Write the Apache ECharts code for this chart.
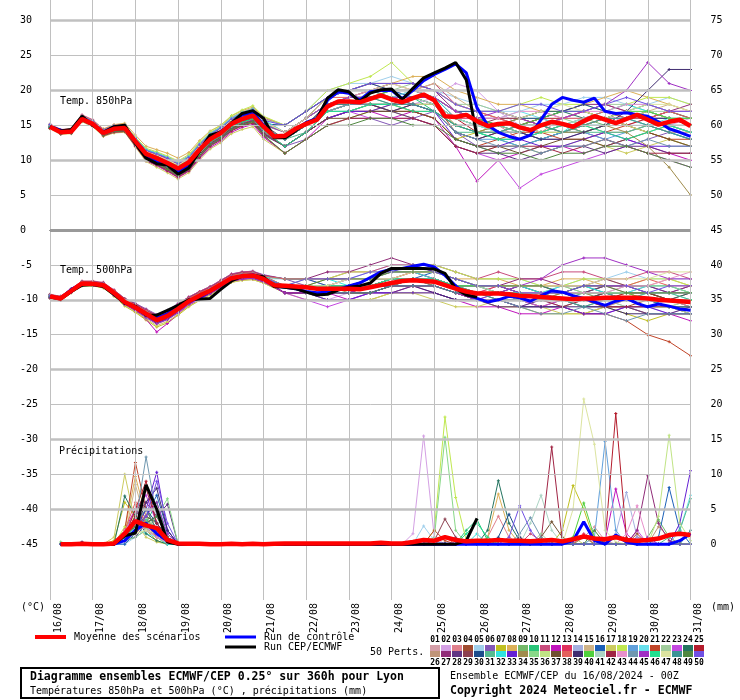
<!DOCTYPE html>
<html><head><meta charset="utf-8">
<script src="https://cdn.jsdelivr.net/npm/echarts@6.0.0/dist/echarts.min.js"></script>
<style>html,body{margin:0;padding:0;background:#fff}#c{width:740px;height:700px}</style>
</head><body><div id="c"></div>
<script>
// ---------- axes / labels ----------
const dateLabels = ['16/08','17/08','18/08','19/08','20/08','21/08','22/08','23/08','24/08','25/08','26/08','27/08','28/08','29/08','30/08','31/08'];
const dayHours = [0,24,48,72,96,120,144,168,192,216,240,264,288,312,336,360];
const leftTicks = [-45,-40,-35,-30,-25,-20,-15,-10,-5,0,5,10,15,20,25,30];
const rightTickLabels = ['0','5','10','15','20','25','30','35','40','45','50','55','60','65','70','75'];
const gridThick = [30,20,10,-10,-20,-30,-40];
const gridThin = [25,15,5,-5,-15,-25,-35];
const zeroLine = [0];

// ---------- time steps ----------
const hours6 = [0,6,12,18,24,30,36,42,48,54,60,66,72,78,84,90,96,102,108,114,120,126,132,138,144,150,156,162,168,174,180,186,192,198,204,210,216,222,228,234,240,246,252,258,264,270,276,282,288,294,300,306,312,318,324,330,336,342,348,354,360];
const memberHours = [0,6,12,18,24,30,36,42,48,54,60,66,72,78,84,90,96,102,108,114,120,132,144,156,168,180,192,204,216,228,240,252,264,276,288,300,312,324,336,348,360];
const precipHours = [6,12,18,24,30,36,42,48,54,60,66,72,78,84,90,96,102,108,114,120,126,132,138,144,150,156,162,168,174,180,186,192,198,204,210,216,222,228,234,240,246,252,258,264,270,276,282,288,294,300,306,312,318,324,330,336,342,348,354,360];

// ---------- main series ----------
const mean850 = [14.8,14.0,14.1,15.9,15.2,13.9,14.5,14.6,12.7,10.9,10.3,9.6,8.8,9.7,11.5,13.0,13.9,15.2,15.9,16.4,14.8,13.4,13.5,14.5,15.2,15.8,17.7,18.4,18.4,18.3,18.8,19.3,18.7,18.3,18.9,19.4,18.6,16.3,16.2,16.5,15.6,14.9,15.2,15.3,14.7,14.3,15.0,15.5,15.2,14.8,15.6,16.3,15.8,15.3,15.9,16.5,15.8,15.1,15.5,15.8,14.9];
const control850 = [14.8,14.3,14.2,16.0,15.2,13.9,14.8,14.9,12.6,10.6,9.8,9.4,8.3,9.2,11.4,13.4,14.1,15.3,16.5,16.9,15.0,13.4,13.3,14.4,15.4,16.0,18.6,19.8,19.6,18.6,19.8,20.0,20.0,18.8,20.0,21.4,22.3,23.0,23.8,22.5,17.5,15.0,14.0,13.4,13.0,13.6,15.8,18.0,19.0,18.6,18.3,18.9,17.0,16.7,16.8,16.5,16.3,15.5,14.5,14.0,13.4];
const oper850 = [14.8,14.2,14.4,16.3,15.0,14.0,14.8,15.0,12.4,10.3,9.5,9.3,8.0,8.9,11.3,13.6,14.0,15.3,16.7,17.1,16.0,13.2,13.2,14.2,15.3,15.9,18.9,20.1,19.8,18.4,19.6,20.1,20.2,18.7,20.3,21.8,22.5,23.2,24.0,21.5,13.4];
const mean500 = [-9.5,-9.8,-8.7,-7.65,-7.7,-7.9,-9.0,-10.3,-11.1,-12.0,-12.9,-12.3,-11.3,-10.2,-9.4,-8.7,-7.8,-6.9,-6.6,-6.5,-7.0,-7.9,-8.0,-8.1,-8.2,-8.4,-8.4,-8.4,-8.4,-8.5,-8.2,-7.9,-7.6,-7.3,-7.2,-7.3,-7.4,-7.9,-8.4,-8.8,-9.1,-9.1,-9.1,-9.2,-9.4,-9.5,-9.6,-9.7,-9.8,-9.9,-9.8,-9.8,-9.7,-9.7,-9.7,-9.7,-9.8,-10.0,-10.1,-10.2,-10.3];
const control500 = [-9.5,-9.8,-8.5,-7.7,-7.8,-8.0,-9.2,-10.4,-11.0,-12.0,-12.6,-12.0,-11.0,-10.3,-9.7,-8.8,-7.9,-7.0,-6.6,-6.4,-6.9,-7.9,-8.2,-8.4,-8.8,-9.0,-8.9,-8.5,-8.0,-7.6,-6.8,-6.0,-5.6,-5.5,-5.2,-4.9,-5.3,-6.5,-8.0,-9.2,-9.8,-10.3,-10.0,-9.5,-9.7,-10.2,-9.4,-8.7,-8.9,-9.4,-9.8,-10.3,-10.8,-10.2,-9.8,-10.5,-11.0,-10.6,-10.9,-11.3,-11.5];
const oper500 = [-9.6,-9.9,-8.8,-7.9,-7.8,-8.1,-9.2,-10.5,-10.9,-12.2,-12.2,-11.5,-10.8,-10.0,-9.9,-9.8,-8.5,-7.3,-6.6,-6.5,-6.7,-8.1,-8.2,-8.4,-8.9,-9.3,-9.2,-8.6,-8.2,-8.0,-7.6,-6.2,-5.5,-5.5,-5.5,-5.5,-5.6,-6.2,-8.4,-9.3,-9.6];
const meanPrecip = [0,0,0.05,0,0,0.1,1.5,3.3,2.7,2.3, 0.6,0.1,0.05,0.05,0,0,0.05,0,0.05,0, 0.05,0.1,0.1,0.1,0.1,0.1,0.1,0.1,0.1,0.1, 0.2,0.1,0.1,0.3,0.6,0.5,1.0,0.6,0.4,0.5, 0.5,0.6,0.5,0.5,0.4,0.5,0.6,0.4,0.7,1.1, 0.8,0.7,1.0,0.6,0.5,0.6,0.8,1.3,1.5,1.3];
const controlPrecip = [0,0,0,0,0,0,0.5,2.0,3.0,1.5, 0.5,0,0,0,0,0,0,0,0,0, 0,0,0,0,0,0,0,0,0,0, 0,0,0,0,0,0,0,0,0,0, 0,0,0,0,0,0,0,0,0.5,3.2, 0.5,0,1.3,0.3,0,0,0,0,0.5,1.5];
const operPrecip = [0,0,0,0,0,0,1.2,1.6,8.5,5.0, 0.3,0,0,0,0,0,0,0,0,0, 0,0,0,0,0,0,0,0,0,0, 0,0,0,0,0,0,0,0,0.5,3.7];

// ---------- 50 perturbed members ----------
const memberIds = ['01','02','03','04','05','06','07','08','09','10','11','12','13','14','15','16','17','18','19','20','21','22','23','24','25','26','27','28','29','30','31','32','33','34','35','36','37','38','39','40','41','42','43','44','45','46','47','48','49','50'];
const memberColors = ['#d49ea8','#d4a0e4','#e0808c','#a04c30','#a0d0ec','#8458b8','#c0c020','#dcb058','#74b868','#28c478','#c84c7c','#c014bc','#e0305c','#a4b0e0','#d0b488','#1c60b8','#cccc60','#c0e850','#60a0dc','#68e0ec','#c04428','#a0cc9c','#c448e0','#247460','#b41c2c',
  '#c09478','#902c78','#603484','#8c4050','#1c4c8c','#54bc90','#30e4e0','#6420d4','#a08c4c','#88d888','#c0e484','#705030','#e4605c','#402c70','#50d03c','#acd4c4','#a02444','#e890cc','#7098b0','#a030c4','#20e090','#dce4a0','#3c9494','#508840','#7050e4'];

const t850Members = [
[15.0,14.2,14.3,16.2,15.4,14.2,14.8,14.9,13.1,11.4,10.9,10.2,9.5,10.3,12.0,13.4,14.3,15.6,16.3,16.8,15.3,14,16,18,19,19,20,19,18,15,14,15,16,15,14,15,16,17,16,16,15],
[14.6,13.8,14.0,15.7,15.0,13.7,14.2,14.3,12.2,10.3,9.6,8.9,8.1,9.0,10.9,12.4,13.3,14.6,15.3,15.7,14.1,12,14,17,18,18,17,18,19,21,20,17,15,14,15,16,17,15,14,15,16],
[14.9,14.1,14.2,16.0,15.4,14.1,14.6,14.8,13.0,11.3,10.8,10.3,9.6,10.4,12.2,13.6,14.5,15.8,16.6,17.1,15.6,14,16,19,20,21,20,20,19,17,16,15,13,14,16,17,16,15,16,17,16],
[14.7,14.0,14.0,15.8,15.1,13.8,14.3,14.4,12.4,10.5,9.9,9.1,8.4,9.3,11.1,12.6,13.5,14.8,15.4,15.9,14.2,13,15,17,18,19,19,18,18,14,13,14,15,16,15,14,15,16,17,16,15],
[15.0,14.3,14.4,16.3,15.6,14.4,15.0,15.1,13.3,11.6,11.1,10.5,9.8,10.6,12.3,13.8,14.6,15.9,16.7,17.3,15.9,15,17,20,21,21,22,21,20,19,18,17,17,18,18,19,19,18,18,19,18],
[14.8,14.0,14.1,15.9,15.2,13.8,14.4,14.4,12.5,10.6,10.0,9.3,8.5,9.4,11.2,12.7,13.7,15.0,15.6,16.0,14.2,12,13,15,16,16,15,16,17,14,12,11,12,13,13,14,13,12,13,14,13],
[14.6,13.9,13.9,15.6,14.9,13.6,14.1,14.2,12.1,10.1,9.4,8.7,7.9,8.8,10.6,12.2,13.1,14.4,15.0,15.4,13.7,12,14,16,17,17,18,17,16,13,14,15,14,13,14,15,16,15,14,13,12],
[15.1,14.3,14.5,16.4,15.7,14.5,15.1,15.3,13.6,12.0,11.5,11.0,10.3,11.1,12.8,14.2,15.0,16.3,17.1,17.6,16.2,15,17,19,20,21,21,22,22,20,19,18,18,17,17,18,19,20,19,18,17],
[14.8,14.0,14.1,15.9,15.3,14.0,14.6,14.7,12.8,11.0,10.4,9.7,8.9,9.8,11.6,13.2,14.0,15.3,16.0,16.5,15.0,14,15,18,18,19,18,19,18,16,15,14,14,15,15,16,15,16,16,15,14],
[14.7,13.9,14.0,15.8,15.1,13.8,14.4,14.5,12.6,10.7,10.1,9.4,8.6,9.5,11.3,12.8,13.7,15.0,15.7,16.1,14.5,13,15,17,18,18,18,19,17,15,14,13,12,13,14,14,15,16,15,14,13],
[15.2,14.4,14.5,16.5,15.8,14.4,15.0,15.1,13.2,11.5,11.0,10.4,9.7,10.6,12.4,13.9,14.8,16.1,16.9,17.4,16.0,15,17,19,20,20,21,20,21,18,17,16,16,17,16,17,18,17,16,17,17],
[14.6,13.8,13.9,15.6,14.9,13.5,14.0,14.1,12.0,9.9,9.2,8.4,7.5,8.4,10.2,11.8,12.7,14.0,14.7,15.1,13.3,11,13,16,17,17,16,17,16,12,7,10,11,12,12,11,12,13,12,11,10],
[14.9,14.1,14.2,16.0,15.3,14.0,14.7,14.8,12.9,11.2,10.6,10.0,9.2,10.1,11.9,13.4,14.3,15.6,16.4,16.9,15.4,14,16,18,19,19,19,19,18,16,16,15,15,14,15,15,16,16,17,16,15],
[14.7,14.0,14.1,15.8,15.1,13.8,14.4,14.5,12.5,10.6,9.9,9.2,8.3,9.2,11.1,12.7,13.6,14.9,15.6,16.1,14.4,13,15,17,17,18,18,18,17,15,15,15,14,15,16,16,16,15,15,15,14],
[15.0,14.2,14.3,16.1,15.4,14.1,14.8,14.9,13.0,11.3,10.8,10.2,9.4,10.3,12.1,13.5,14.4,15.7,16.5,17.0,15.5,14,16,19,20,20,19,20,21,19,17,16,15,15,16,17,16,16,17,18,17],
[14.8,14.0,14.2,15.9,15.2,13.9,14.5,14.6,12.7,10.9,10.3,9.6,8.8,9.7,11.5,13.0,13.9,15.2,15.9,16.4,14.8,13,15,18,19,19,20,19,18,16,15,15,14,13,14,15,15,16,16,15,15],
[14.5,13.7,13.8,15.5,14.8,13.4,13.9,14.0,11.9,9.8,9.0,8.2,7.3,8.2,10.0,11.6,12.5,13.8,14.4,14.8,13.0,11,13,15,16,17,17,16,15,12,11,12,12,11,12,13,12,11,12,13,12],
[15.1,14.3,14.4,16.3,15.6,14.3,14.9,15.1,13.3,11.7,11.2,10.6,9.9,10.8,12.6,14.1,15.0,16.4,17.2,17.8,16.3,15,17,20,21,22,24,21,20,18,17,17,18,19,18,18,17,18,19,19,18],
[14.8,14.1,14.1,15.9,15.2,13.9,14.5,14.6,12.7,10.8,10.2,9.5,8.7,9.6,11.4,12.9,13.8,15.1,15.8,16.3,14.7,13,15,17,18,19,19,18,17,14,13,13,12,13,14,14,13,14,15,14,13],
[14.9,14.1,14.2,16.0,15.3,14.0,14.6,14.7,12.8,11.0,10.5,9.8,9.0,9.9,11.8,13.3,14.2,15.5,16.2,16.7,15.2,14,16,18,19,19,19,20,19,17,16,16,17,16,15,16,17,16,15,16,16],
[14.7,13.9,14.0,15.8,15.0,13.7,14.2,14.3,12.3,10.4,9.7,9.0,8.1,9.0,10.8,12.4,13.3,14.6,15.3,15.8,14.0,12,14,16,17,18,17,17,16,13,12,13,14,14,13,13,14,15,14,13,13],
[15.0,14.2,14.4,16.2,15.5,14.2,14.8,15.0,13.2,11.5,11.0,10.4,9.7,10.6,12.4,13.9,14.8,16.1,16.9,17.4,15.9,15,17,19,20,20,20,21,20,18,18,17,16,16,17,17,18,18,17,17,16],
[14.6,13.8,13.9,15.7,15.0,13.6,14.1,14.2,12.2,10.2,9.5,8.8,7.9,8.8,10.7,12.3,13.2,14.5,15.2,15.6,13.8,12,14,16,17,16,16,16,15,12,11,10,6,8,9,10,11,12,11,10,9],
[14.9,14.2,14.2,16.1,15.4,14.1,14.7,14.8,12.9,11.1,10.6,9.9,9.1,10.0,11.8,13.3,14.2,15.5,16.3,16.8,15.3,14,16,18,19,20,19,19,19,17,16,15,16,17,17,16,16,17,18,17,16],
[14.8,14.0,14.1,15.9,15.2,13.9,14.5,14.6,12.6,10.8,10.2,9.5,8.7,9.6,11.4,12.9,13.8,15.1,15.8,16.3,14.7,13,15,18,18,18,18,19,19,16,14,14,15,16,16,17,16,15,16,16,15],
[14.7,13.9,14.0,15.8,15.1,13.8,14.3,14.4,12.4,10.5,9.8,9.1,8.3,9.2,11.0,12.5,13.4,14.7,15.4,15.9,14.2,12,14,17,18,18,18,17,17,15,14,14,13,14,14,15,14,14,15,14,14],
[15.0,14.2,14.3,16.2,15.5,14.2,14.8,15.0,13.1,11.3,10.8,10.2,9.4,10.3,12.1,13.6,14.5,15.8,16.6,17.1,15.6,14,16,19,20,20,21,21,20,17,16,16,15,16,17,18,18,17,16,17,18],
[14.6,13.8,13.9,15.7,14.9,13.6,14.1,14.1,12.1,10.1,9.4,8.6,7.7,8.6,10.5,12.1,13.0,14.3,15.0,15.5,13.6,12,14,16,17,17,17,16,15,12,11,11,10,11,12,12,11,12,12,11,11],
[14.8,14.1,14.2,16.0,15.3,14.0,14.6,14.7,12.8,11.0,10.4,9.7,8.9,9.8,11.6,13.1,14.0,15.3,16.1,16.6,15.1,13,15,18,19,19,19,18,18,15,15,16,16,15,14,15,16,17,16,15,14],
[14.9,14.1,14.2,16.0,15.3,14.0,14.6,14.7,12.8,11.0,10.5,9.8,9.0,9.9,11.7,13.2,14.1,15.4,16.2,16.7,15.2,15,17,19,20,21,20,20,19,17,17,17,16,16,17,18,17,16,16,16,15],
[14.7,14.0,14.0,15.8,15.1,13.8,14.4,14.5,12.5,10.6,10.0,9.2,8.4,9.3,11.1,12.6,13.5,14.8,15.5,16.0,14.3,13,14,17,17,18,18,18,17,14,14,13,13,14,15,14,14,14,15,15,14],
[15.1,14.3,14.4,16.3,15.6,14.3,14.9,15.0,13.2,11.5,11.0,10.4,9.6,10.5,12.3,13.8,14.7,16.0,16.8,17.3,15.8,14,16,19,20,20,20,20,19,16,15,14,15,15,14,16,17,18,17,16,16],
[14.7,13.9,14.0,15.7,15.0,13.7,14.2,14.3,12.3,10.3,9.7,8.9,8.0,8.9,10.8,12.3,13.2,14.5,15.2,15.7,13.9,12,14,16,17,17,18,18,17,13,12,12,13,12,12,13,14,13,12,12,12],
[14.8,14.0,14.1,15.9,15.2,13.9,14.5,14.6,12.7,10.9,10.3,9.6,8.7,9.6,11.4,12.9,13.8,15.1,15.8,16.3,14.7,13,15,17,18,18,17,18,17,15,14,15,16,15,14,14,15,14,12,9,5],
[15.0,14.2,14.3,16.1,15.4,14.1,14.7,14.8,12.9,11.1,10.6,10.0,9.2,10.1,11.9,13.4,14.3,15.6,16.4,16.9,15.4,14,16,18,19,20,19,19,18,16,15,15,14,15,16,15,15,16,17,16,16],
[14.8,14.1,14.1,15.9,15.2,13.9,14.5,14.6,12.6,10.8,10.2,9.5,8.6,9.5,11.3,12.9,13.8,15.1,15.8,16.3,14.7,13,15,17,18,18,18,18,18,15,14,14,15,14,14,15,16,15,14,15,15],
[14.6,13.9,14.0,15.7,15.0,13.6,14.2,14.3,12.3,10.3,9.6,8.8,8.0,8.9,10.8,12.4,13.3,14.6,15.2,15.6,13.8,12,14,16,16,17,17,17,16,13,12,12,11,12,13,13,12,13,14,13,12],
[15.0,14.2,14.3,16.2,15.5,14.2,14.8,14.9,13.0,11.2,10.7,10.1,9.3,10.2,12.0,13.5,14.4,15.7,16.5,17.0,15.5,14,16,19,19,20,20,20,20,18,17,16,15,15,16,16,17,16,16,17,16],
[14.7,13.9,14.0,15.8,15.1,13.8,14.3,14.4,12.5,10.6,9.9,9.2,8.4,9.3,11.1,12.6,13.5,14.8,15.5,16.0,14.3,13,15,17,18,18,17,18,17,14,13,14,14,13,13,14,15,17,20,23,23],
[14.9,14.1,14.2,16.1,15.4,14.1,14.7,14.8,12.9,11.1,10.6,10.0,9.2,10.1,11.9,13.4,14.3,15.6,16.4,16.9,15.4,14,16,18,19,19,20,20,19,17,16,15,15,16,17,17,16,17,17,16,16],
[14.8,14.0,14.1,15.9,15.2,13.9,14.5,14.6,12.7,10.9,10.3,9.6,8.8,9.7,11.5,13.0,13.9,15.2,15.9,16.4,14.8,13,15,17,18,19,19,19,18,16,15,14,14,15,15,16,16,16,15,15,14],
[14.6,13.8,13.9,15.6,14.9,13.5,14.0,14.1,12.0,10.0,9.3,8.5,7.6,8.5,10.4,12.0,12.9,14.2,14.9,15.3,13.5,11,13,15,16,16,16,16,15,12,11,12,12,12,11,12,13,12,11,11,11],
[15.0,14.3,14.3,16.2,15.5,14.2,14.8,14.9,13.0,11.2,10.7,10.1,9.3,10.2,12.0,13.5,14.4,15.7,16.5,17.0,15.5,14,16,18,19,20,20,20,19,17,16,16,17,17,16,17,17,18,18,17,17],
[14.8,14.0,14.1,15.9,15.2,13.9,14.5,14.6,12.6,10.8,10.2,9.5,8.7,9.6,11.4,12.9,13.8,15.1,15.8,16.3,14.7,13,15,17,18,18,18,18,17,14,13,12,12,11,12,12,13,12,13,12,12],
[14.9,14.1,14.2,16.0,15.3,14.0,14.6,14.7,12.8,11.0,10.4,9.7,8.9,9.8,11.6,13.1,14.0,15.3,16.1,16.6,15.1,14,16,18,19,19,19,19,19,17,16,17,16,15,16,17,18,20,24,21,20],
[14.7,13.9,14.0,15.8,15.1,13.8,14.4,14.4,12.4,10.5,9.9,9.1,8.3,9.2,11.0,12.6,13.5,14.8,15.5,15.9,14.2,12,14,17,17,18,18,17,17,15,14,13,13,14,15,15,14,13,14,15,14],
[15.0,14.2,14.3,16.1,15.4,14.1,14.7,14.8,12.9,11.2,10.7,10.0,9.3,10.2,12.0,13.5,14.4,15.7,16.5,17.0,15.5,14,16,19,20,20,21,20,20,18,17,17,16,17,18,17,16,17,18,18,17],
[14.8,14.0,14.1,15.9,15.2,13.9,14.5,14.6,12.7,10.9,10.3,9.6,8.8,9.7,11.5,13.0,13.9,15.2,15.9,16.4,14.8,13,15,18,18,19,18,18,17,15,14,14,15,15,14,15,16,16,15,14,13],
[14.6,13.8,13.9,15.7,15.0,13.6,14.1,14.2,12.2,10.2,9.5,8.7,7.8,8.7,10.6,12.2,13.1,14.4,15.1,15.5,13.6,11,13,15,15,16,16,15,15,13,12,11,11,10,11,11,12,12,11,10,9],
[15.1,14.3,14.4,16.3,15.6,14.3,14.9,15.0,13.1,11.4,10.9,10.3,9.5,10.4,12.2,13.7,14.6,15.9,16.7,17.2,15.7,15,17,19,20,21,21,21,20,18,17,17,18,18,17,17,18,19,18,17,17]
];

const t500Members = [
[-9.3,-9.6,-8.5,-7.5,-7.5,-7.7,-8.7,-10.0,-10.7,-11.5,-12.3,-11.7,-10.7,-9.7,-8.9,-8.3,-7.4,-6.5,-6.2,-6.1,-6.6,-8,-8,-8,-7,-7,-7,-6,-7,-8,-9,-8,-9,-9,-8,-9,-9,-10,-9,-10,-10],
[-9.7,-10.0,-8.9,-7.9,-7.9,-8.1,-9.3,-10.7,-11.5,-12.6,-13.5,-12.9,-11.9,-10.7,-9.9,-9.1,-8.2,-7.3,-7.0,-6.9,-7.4,-9,-9,-10,-9,-9,-8,-8,-8,-9,-10,-11,-11,-10,-11,-12,-11,-10,-11,-12,-11],
[-9.4,-9.7,-8.6,-7.6,-7.6,-7.8,-8.9,-10.1,-10.9,-11.8,-12.6,-12.0,-11.0,-10.0,-9.2,-8.5,-7.6,-6.7,-6.4,-6.3,-6.8,-7,-7,-8,-8,-7,-6,-6,-6,-7,-8,-8,-9,-9,-9,-8,-8,-9,-8,-8,-9],
[-9.6,-9.9,-8.8,-7.8,-7.8,-8.0,-9.1,-10.5,-11.3,-12.3,-13.2,-12.6,-11.6,-10.4,-9.6,-8.9,-8.0,-7.1,-6.8,-6.7,-7.2,-8,-9,-9,-9,-9,-8,-8,-8,-9,-10,-10,-10,-11,-10,-10,-11,-11,-10,-11,-12],
[-9.5,-9.8,-8.7,-7.7,-7.7,-7.9,-9.0,-10.3,-11.1,-12.0,-12.9,-12.3,-11.3,-10.2,-9.4,-8.7,-7.8,-6.9,-6.6,-6.5,-7.0,-7,-7,-7,-7,-6,-5,-5,-5,-6,-7,-7,-7,-8,-8,-7,-7,-6,-7,-7,-7],
[-9.3,-9.5,-8.4,-7.4,-7.4,-7.6,-8.6,-9.8,-10.5,-11.3,-12.1,-11.5,-10.5,-9.6,-8.8,-8.1,-7.2,-6.3,-6.0,-5.9,-6.4,-7,-8,-8,-7,-7,-6,-6,-7,-8,-8,-9,-8,-8,-9,-9,-8,-8,-9,-9,-8],
[-9.8,-10.1,-9.0,-8.0,-8.0,-8.3,-9.5,-10.9,-11.8,-12.9,-13.9,-13.3,-12.2,-11.0,-10.1,-9.3,-8.4,-7.5,-7.2,-7.1,-7.6,-9,-9,-10,-10,-10,-9,-9,-9,-10,-10,-11,-11,-12,-12,-12,-11,-12,-13,-12,-12],
[-9.4,-9.7,-8.6,-7.6,-7.6,-7.8,-8.8,-10.1,-10.9,-11.8,-12.7,-12.1,-11.1,-10.0,-9.2,-8.5,-7.6,-6.7,-6.4,-6.3,-6.8,-8,-8,-7,-7,-7,-7,-6,-6,-7,-7,-7,-8,-8,-7,-7,-8,-8,-8,-7,-8],
[-9.6,-9.9,-8.8,-7.8,-7.8,-8.0,-9.2,-10.5,-11.3,-12.2,-13.1,-12.5,-11.5,-10.4,-9.6,-8.9,-8.0,-7.1,-6.8,-6.7,-7.2,-8,-8,-9,-9,-8,-8,-8,-8,-9,-9,-9,-10,-10,-9,-10,-10,-9,-9,-10,-10],
[-9.5,-9.8,-8.7,-7.7,-7.7,-7.9,-9.0,-10.3,-11.0,-11.9,-12.8,-12.2,-11.2,-10.1,-9.3,-8.6,-7.7,-6.8,-6.5,-6.4,-6.9,-8,-8,-8,-8,-8,-7,-7,-7,-8,-9,-9,-9,-10,-10,-10,-10,-10,-11,-11,-11],
[-9.2,-9.5,-8.4,-7.3,-7.3,-7.5,-8.6,-9.8,-10.6,-11.4,-12.2,-11.6,-10.6,-9.6,-8.8,-8.1,-7.2,-6.3,-6.0,-5.9,-6.5,-7,-7,-7,-6,-6,-5,-5,-5,-6,-7,-6,-7,-7,-6,-6,-7,-7,-6,-6,-7],
[-9.7,-10.0,-8.9,-7.9,-7.9,-8.2,-9.3,-10.7,-11.6,-12.8,-14.6,-13.4,-12.0,-10.8,-10.0,-9.2,-8.3,-7.4,-7.1,-7.0,-7.5,-9,-9,-9,-10,-9,-9,-8,-9,-10,-11,-11,-12,-12,-11,-12,-12,-11,-12,-12,-13],
[-9.4,-9.7,-8.6,-7.6,-7.6,-7.8,-8.9,-10.2,-10.9,-11.8,-12.6,-12.0,-11.0,-10.0,-9.2,-8.5,-7.6,-6.7,-6.4,-6.3,-6.8,-8,-8,-8,-8,-7,-7,-6,-7,-8,-9,-8,-8,-9,-9,-10,-9,-9,-10,-10,-9],
[-9.5,-9.8,-8.7,-7.7,-7.7,-8.0,-9.1,-10.4,-11.2,-12.1,-13.0,-12.4,-11.4,-10.3,-9.5,-8.8,-7.9,-7.0,-6.7,-6.6,-7.1,-8,-9,-9,-9,-9,-8,-8,-8,-9,-9,-10,-10,-10,-11,-10,-10,-11,-11,-10,-11],
[-9.6,-9.9,-8.8,-7.8,-7.8,-8.0,-9.1,-10.4,-11.2,-12.1,-13.0,-12.4,-11.4,-10.3,-9.5,-8.8,-7.9,-7.0,-6.7,-6.6,-7.1,-8,-8,-8,-8,-8,-7,-7,-7,-8,-8,-9,-9,-9,-10,-9,-9,-9,-10,-10,-10],
[-9.3,-9.6,-8.5,-7.5,-7.5,-7.7,-8.8,-10.0,-10.8,-11.6,-12.4,-11.8,-10.8,-9.8,-9.0,-8.3,-7.4,-6.5,-6.2,-6.1,-6.6,-7,-7,-8,-8,-7,-7,-7,-6,-7,-8,-8,-8,-8,-9,-9,-8,-8,-8,-9,-9],
[-9.8,-10.1,-9.0,-8.0,-8.0,-8.2,-9.4,-10.8,-11.7,-12.7,-13.7,-13.1,-12.1,-10.9,-10.1,-9.3,-8.4,-7.5,-7.2,-7.1,-7.6,-9,-10,-10,-10,-10,-9,-9,-10,-11,-11,-10,-11,-11,-12,-12,-11,-11,-12,-12,-12],
[-9.4,-9.7,-8.6,-7.6,-7.6,-7.8,-8.9,-10.1,-10.9,-11.8,-12.6,-12.0,-11.0,-9.9,-9.1,-8.4,-7.5,-6.6,-6.3,-6.2,-6.7,-7,-7,-7,-6,-6,-6,-5,-5,-6,-7,-7,-7,-8,-8,-7,-7,-8,-7,-7,-8],
[-9.5,-9.8,-8.7,-7.7,-7.7,-7.9,-9.0,-10.3,-11.1,-12.0,-12.9,-12.3,-11.3,-10.2,-9.4,-8.7,-7.8,-6.9,-6.6,-6.5,-7.0,-8,-8,-9,-9,-9,-8,-7,-8,-9,-10,-9,-10,-10,-10,-11,-10,-10,-10,-11,-10],
[-9.6,-9.9,-8.8,-7.8,-7.8,-8.0,-9.1,-10.5,-11.3,-12.3,-13.2,-12.6,-11.6,-10.4,-9.6,-8.9,-8.0,-7.1,-6.8,-6.7,-7.2,-8,-8,-8,-8,-8,-8,-7,-7,-8,-9,-9,-9,-9,-9,-9,-10,-10,-9,-9,-10],
[-9.3,-9.6,-8.5,-7.5,-7.5,-7.7,-8.7,-9.9,-10.7,-11.6,-12.4,-11.8,-10.8,-9.8,-9.0,-8.3,-7.4,-6.5,-6.2,-6.1,-6.6,-8,-8,-9,-9,-8,-8,-8,-8,-9,-10,-10,-10,-11,-11,-12,-12,-13,-15,-16,-18],
[-9.7,-10.0,-8.9,-7.9,-7.9,-8.1,-9.2,-10.6,-11.4,-12.4,-13.3,-12.7,-11.7,-10.5,-9.7,-9.0,-8.1,-7.2,-6.9,-6.8,-7.3,-9,-9,-9,-9,-9,-8,-8,-8,-9,-10,-10,-10,-11,-11,-10,-10,-11,-11,-11,-12],
[-9.5,-9.8,-8.7,-7.7,-7.7,-7.9,-9.0,-10.2,-11.0,-11.9,-12.8,-12.2,-11.2,-10.1,-9.3,-8.6,-7.7,-6.8,-6.5,-6.4,-6.9,-9,-10,-11,-10,-9,-8,-8,-8,-9,-10,-10,-10,-11,-10,-10,-9,-10,-10,-10,-11],
[-9.4,-9.7,-8.6,-7.6,-7.6,-7.8,-8.9,-10.2,-11.0,-11.9,-12.8,-12.2,-11.2,-10.1,-9.3,-8.6,-7.7,-6.8,-6.5,-6.4,-6.9,-8,-8,-8,-8,-8,-7,-7,-7,-8,-9,-9,-8,-9,-9,-8,-9,-9,-9,-10,-9],
[-9.6,-9.9,-8.8,-7.8,-7.8,-8.0,-9.2,-10.5,-11.3,-12.2,-13.1,-12.5,-11.5,-10.4,-9.6,-8.9,-8.0,-7.1,-6.8,-6.7,-7.2,-8,-8,-9,-9,-8,-8,-7,-7,-8,-8,-8,-9,-9,-10,-10,-10,-9,-9,-10,-10],
[-9.5,-9.8,-8.7,-7.7,-7.7,-7.9,-9.0,-10.3,-11.1,-12.0,-12.9,-12.3,-11.3,-10.2,-9.4,-8.7,-7.8,-6.9,-6.6,-6.5,-7.0,-8,-8,-8,-8,-8,-7,-7,-7,-8,-9,-10,-10,-9,-10,-10,-11,-10,-10,-10,-11],
[-9.3,-9.6,-8.5,-7.4,-7.4,-7.6,-8.7,-9.9,-10.6,-11.5,-12.3,-11.7,-10.7,-9.7,-8.9,-8.2,-7.3,-6.4,-6.1,-6.0,-6.5,-7,-7,-6,-6,-5,-4,-5,-6,-7,-8,-8,-7,-7,-8,-8,-7,-8,-8,-9,-8],
[-9.7,-10.0,-8.9,-7.9,-7.9,-8.1,-9.3,-10.6,-11.5,-12.5,-13.4,-12.8,-11.8,-10.6,-9.8,-9.1,-8.2,-7.3,-7.0,-6.9,-7.4,-9,-9,-9,-9,-9,-9,-8,-8,-9,-10,-11,-11,-10,-10,-11,-11,-11,-12,-12,-11],
[-9.4,-9.7,-8.6,-7.6,-7.6,-7.8,-8.9,-10.1,-10.9,-11.8,-12.6,-12.0,-11.0,-10.0,-9.2,-8.5,-7.6,-6.7,-6.4,-6.3,-6.8,-8,-8,-8,-7,-7,-7,-7,-7,-8,-8,-8,-9,-9,-9,-9,-8,-8,-9,-9,-9],
[-9.6,-9.9,-8.8,-7.8,-7.8,-8.0,-9.1,-10.4,-11.2,-12.1,-13.0,-12.4,-11.4,-10.3,-9.5,-8.8,-7.9,-7.0,-6.7,-6.6,-7.1,-8,-9,-9,-8,-8,-8,-7,-8,-9,-9,-9,-10,-10,-10,-10,-9,-10,-10,-11,-11],
[-9.5,-9.8,-8.7,-7.7,-7.7,-7.9,-9.0,-10.3,-11.1,-12.0,-12.9,-12.3,-11.3,-10.2,-9.4,-8.7,-7.8,-6.9,-6.6,-6.5,-7.0,-8,-8,-8,-8,-7,-7,-7,-7,-8,-9,-9,-9,-9,-10,-9,-9,-10,-9,-9,-10],
[-9.4,-9.7,-8.6,-7.6,-7.6,-7.8,-8.8,-10.0,-10.8,-11.7,-12.5,-11.9,-10.9,-9.9,-9.1,-8.4,-7.5,-6.6,-6.3,-6.2,-6.7,-7,-7,-7,-8,-7,-6,-6,-7,-8,-8,-8,-8,-9,-8,-8,-9,-9,-8,-8,-9],
[-9.7,-10.0,-8.9,-7.9,-7.9,-8.1,-9.2,-10.6,-11.4,-12.4,-13.3,-12.7,-11.7,-10.5,-9.7,-9.0,-8.1,-7.2,-6.9,-6.8,-7.3,-9,-9,-10,-10,-9,-9,-9,-9,-10,-10,-10,-11,-11,-11,-12,-12,-11,-11,-12,-12],
[-9.5,-9.8,-8.7,-7.7,-7.7,-7.9,-9.0,-10.3,-11.1,-12.0,-12.9,-12.3,-11.3,-10.2,-9.4,-8.7,-7.8,-6.9,-6.6,-6.5,-7.0,-8,-8,-8,-9,-9,-8,-7,-8,-9,-9,-9,-9,-10,-9,-9,-10,-10,-10,-10,-10],
[-9.4,-9.7,-8.6,-7.5,-7.5,-7.8,-8.8,-10.1,-10.8,-11.7,-12.6,-12.0,-11.0,-9.9,-9.1,-8.4,-7.5,-6.6,-6.3,-6.2,-6.7,-8,-7,-7,-7,-7,-6,-6,-6,-7,-8,-8,-8,-8,-8,-9,-9,-8,-8,-8,-9],
[-9.6,-9.9,-8.8,-7.8,-7.8,-8.0,-9.1,-10.5,-11.3,-12.2,-13.1,-12.5,-11.5,-10.4,-9.6,-8.9,-8.0,-7.1,-6.8,-6.7,-7.2,-8,-8,-9,-9,-9,-8,-8,-8,-9,-9,-9,-10,-10,-10,-11,-10,-10,-11,-11,-10],
[-9.5,-9.8,-8.7,-7.7,-7.7,-7.9,-9.0,-10.3,-11.1,-12.0,-12.9,-12.3,-11.3,-10.2,-9.4,-8.7,-7.8,-6.9,-6.6,-6.5,-7.0,-8,-8,-8,-8,-8,-7,-7,-7,-8,-9,-9,-9,-9,-9,-10,-9,-9,-9,-10,-10],
[-9.3,-9.6,-8.5,-7.5,-7.5,-7.7,-8.7,-10.0,-10.7,-11.6,-12.4,-11.8,-10.8,-9.8,-9.0,-8.3,-7.4,-6.5,-6.2,-6.1,-6.6,-7,-7,-7,-7,-7,-6,-6,-6,-7,-8,-8,-8,-8,-8,-8,-8,-8,-7,-8,-8],
[-9.6,-9.9,-8.8,-7.8,-7.8,-8.1,-9.2,-10.5,-11.4,-12.4,-13.3,-12.7,-11.7,-10.5,-9.7,-9.0,-8.1,-7.2,-6.9,-6.8,-7.3,-9,-9,-9,-9,-9,-8,-8,-9,-10,-10,-10,-11,-11,-11,-11,-11,-12,-12,-12,-12],
[-9.5,-9.8,-8.7,-7.7,-7.7,-7.9,-9.0,-10.3,-11.0,-11.9,-12.8,-12.2,-11.2,-10.1,-9.3,-8.6,-7.7,-6.8,-6.5,-6.4,-6.9,-8,-8,-8,-8,-7,-7,-7,-7,-8,-8,-9,-9,-9,-9,-9,-9,-9,-10,-10,-10],
[-9.4,-9.7,-8.6,-7.6,-7.6,-7.8,-8.9,-10.2,-11.0,-11.9,-12.7,-12.1,-11.1,-10.0,-9.2,-8.5,-7.6,-6.7,-6.4,-6.3,-6.8,-8,-8,-8,-7,-7,-6,-6,-6,-7,-8,-9,-9,-9,-9,-9,-9,-9,-9,-9,-9],
[-9.6,-9.9,-8.8,-7.8,-7.8,-8.0,-9.2,-10.5,-11.3,-12.3,-13.2,-12.6,-11.6,-10.5,-9.7,-9.0,-8.1,-7.2,-6.9,-6.8,-7.3,-9,-9,-9,-9,-9,-8,-8,-8,-9,-10,-10,-10,-10,-11,-10,-11,-11,-11,-11,-11],
[-9.5,-9.8,-8.7,-7.7,-7.7,-7.9,-9.0,-10.3,-11.1,-12.0,-12.9,-12.3,-11.3,-10.2,-9.4,-8.7,-7.8,-6.9,-6.6,-6.5,-7.0,-8,-8,-8,-7,-7,-7,-7,-7,-8,-9,-9,-9,-9,-9,-9,-9,-8,-8,-7,-6],
[-9.3,-9.6,-8.5,-7.5,-7.5,-7.7,-8.8,-10.1,-10.9,-11.8,-12.7,-12.1,-11.1,-10.0,-9.2,-8.5,-7.6,-6.7,-6.4,-6.3,-6.8,-8,-8,-8,-8,-8,-7,-7,-7,-8,-9,-10,-11,-12,-12,-11,-12,-13,-12,-12,-12],
[-9.7,-10.0,-8.9,-7.9,-7.9,-8.1,-9.3,-10.6,-11.5,-12.5,-13.4,-12.8,-11.8,-10.6,-9.8,-9.1,-8.2,-7.3,-7.0,-6.9,-7.4,-9,-9,-9,-9,-8,-8,-8,-8,-9,-10,-9,-8,-7,-5,-4,-4,-5,-6,-7,-7],
[-9.5,-9.8,-8.7,-7.7,-7.7,-7.9,-9.0,-10.3,-11.1,-12.0,-12.9,-12.3,-11.3,-10.2,-9.4,-8.7,-7.8,-6.9,-6.6,-6.5,-7.0,-8,-8,-8,-8,-8,-7,-7,-7,-8,-9,-9,-9,-10,-10,-10,-10,-10,-10,-10,-10],
[-9.4,-9.7,-8.6,-7.6,-7.6,-7.8,-8.9,-10.2,-11.0,-11.9,-12.8,-12.2,-11.2,-10.1,-9.3,-8.6,-7.7,-6.8,-6.5,-6.4,-6.9,-8,-8,-8,-7,-7,-7,-6,-6,-7,-8,-8,-8,-8,-8,-8,-7,-7,-7,-6,-6],
[-9.6,-9.9,-8.8,-7.8,-7.8,-8.0,-9.1,-10.4,-11.2,-12.1,-13.0,-12.4,-11.4,-10.3,-9.5,-8.8,-7.9,-7.0,-6.7,-6.6,-7.1,-8,-9,-9,-9,-9,-8,-8,-8,-9,-9,-10,-10,-10,-10,-11,-10,-10,-10,-11,-11],
[-9.5,-9.8,-8.7,-7.7,-7.7,-7.9,-9.0,-10.3,-11.1,-12.0,-12.9,-12.3,-11.3,-10.2,-9.4,-8.7,-7.8,-6.9,-6.6,-6.5,-7.0,-8,-8,-7,-7,-7,-6,-6,-6,-7,-8,-8,-8,-8,-9,-8,-8,-9,-9,-9,-9],
[-9.4,-9.7,-8.6,-7.6,-7.6,-7.8,-8.9,-10.2,-10.9,-11.8,-12.7,-12.1,-11.1,-10.0,-9.2,-8.5,-7.6,-6.7,-6.4,-6.3,-6.8,-8,-7,-7,-7,-6,-6,-5,-6,-7,-8,-8,-9,-9,-9,-8,-8,-8,-9,-8,-8]
];

const precipMembers = [
[0,0,0,0,0,0,0.5,2,4,1.5, 0.3,0,0,0,0,0,0,0,0,0, 0,0,0,0,0,0,0,0,0,0, 0,0,0,0,0,0,0,0,0,0, 0,0,0,0,0,0,0,0,0,1, 2.5,0.5,0,0,0,0,0,0,0,0],
[0,0,0,0,0,0,1,3,2,3, 0.5,0,0,0,0,0,0,0,0,0, 0,0,0,0,0,0,0,0,0,0, 0,0,0,1.5,15.5,1,0,0,0,0, 0,0,0,0,0,0,0,0,0,0, 0,0,0,0,0,0,0,0,0,0],
[0,0,0,0,0,0.2,2,5,3,1, 0,0,0,0,0,0,0,0,0,0, 0,0,0,0,0,0,0,0,0,0, 0,0,0,0,0,0,0,0,0,0, 1,4,1,0,0,0,0,0,0,0, 0,0,0,0,0,0,0,0,0,0],
[0,0,0,0,0,0,0.5,1.5,3,4, 1,0,0,0,0,0,0,0,0,0, 0,0,0,0,0,0,0,0,0,0, 0,0,0,0,0,0,0,0,0,0, 0,0,0,0,0,0,0,0,0,0, 0,0,0,0,1.5,0,0,0,0,0],
[0,0,0,0,0,0,0,1,2,1.5, 0.5,0,0,0,0,0,0,0,0,0, 0,0,0,0,0,0,0,0,0,0, 0,0,0,0,2.6,0.5,0,0,0,0, 0,0,0,0,0,0,0,0,0,0, 0,0,0,0,0,0,0,0,0,0],
[0,0,0,0,0,0,1.5,3.5,2,1, 0.2,0,0,0,0,0,0,0,0,0, 0,0,0,0,0,0,0,0,0,0, 0,0,0,0,0,0,0,0,0,0, 0,0,0,0,0,0,0,0,0,0, 0,0,0,0,1,0.5,0,0,0,0],
[0,0,0,0,0,0.5,6,4,2,0.5, 0,0,0,0,0,0,0,0,0,0, 0,0,0,0,0,0,0,0,0,0, 0,0,0,0,0,0,0,0,0,0, 0,0,0,0,0,0,0,2,8.4,5, 0.5,0,0,0,0,0,0,0,0,0],
[0,0,0,0,0,0,2,9.7,4,1, 0,0,0,0,0,0,0,0,0,0, 0,0,0,0,0,0,0,0,0,0, 0,0,0,0,0,0,0,0,0,0, 1,7.2,2,0,0,0,0,0,0,0, 0,0,0,0,0,0,0,0,0,0],
[0,0,0,0,0,0,1,2.5,5,2, 0.5,0,0,0,0,0,0,0,0,0, 0,0,0,0,0,0,0,0,0,0, 0,0,0,0,0,0,0,0,0,0, 0,0,0,0,0,0,0,0,0,0, 0,0,0,0,0,1,3.5,1,0,0],
[0,0,0,0,0,0,0.5,2,3,6, 1,0,0,0,0,0,0,0,0,0, 0,0,0,0,0,0,0,0,0,0, 0,0,0,0,0,0,0,0,2,3.5, 0.5,0,0,0,0,0,0,0,0,0, 0,0,0,0,0,0,0,0,0,0],
[0,0,0,0,0,0,1,3,2.5,1, 0,0,0,0,0,0,0,0,0,0, 0,0,0,0,0,0,0,0,0,0, 0,0,0,0,0,0,0,0,0,0, 0,0,0,0,1.5,0.5,0,0,0,0, 0,0,0,0,0,0,0,0,0,0],
[0,0,0,0,0,0,2,5,3,2, 0.5,0,0,0,0,0,0,0,0,0, 0,0,0,0,0,0,0,0,0,0, 0,0,0,0,0,0,0,0,0,0, 0,0,0,0,0,0,0,0,0,0, 0,0.5,7.9,1.5,0,0,0,0,0,0],
[0,0,0,0,0,0,1.5,4,2,1.5, 0,0,0,0,0,0,0,0,0,0, 0,0,0,0,0,0,0,0,0,0, 0,0,0,0,0,0,0,0,0,0, 0,0,0,0,0,0,0,0,0,1.5, 0,0,0,0,0,0,0,0,0,0],
[0,0,0,0,0,0,0.5,1,2,2.5, 1,0,0,0,0,0,0,0,0,0, 0,0,0,0,0,0,0,0,0,0, 0,0,0,0,0,0,0,0,0,0, 0,0,0,0,0,0,0,0,0,0, 0,0,1.5,7.4,1,0,0,0,0,0],
[0,0,0,0,0,0,1,8.5,3,1, 0,0,0,0,0,0,0,0,0,0, 0,0,0,0,0,0,0,0,0,0, 0,0,0,0,0,0,0,0,0,0, 0,0,0,1,0,0,0,0,0,0, 0,0,0,0,0,0,0,0,0,0],
[0,0,0,0,0,0,0,1.5,4,7, 2,0,0,0,0,0,0,0,0,0, 0,0,0,0,0,0,0,0,0,0, 0,0,0,0,0,0,0,0,0,0, 0,0,0,0,0,0,0,0,0,0, 0,0,0,0,0,0,1,8.1,2,0],
[0,0,0,0,0,1,10,3,1,0.3, 0,0,0,0,0,0,0,0,0,0, 0,0,0,0,0,0,0,0,0,0, 0,0,0,0,0,0,0,0,0,0, 0,0,0,0,0,0,0,0,1,0, 0,0,0,0,0,0,0,0,0,0],
[0,0,0,0,0,0,2.5,4,3,1, 0,0,0,0,0,0,0,0,0,0, 0,0,0,0,0,0,0,0,0,0, 0,0,0,0,0,2,18.2,6.7,0.5,0, 0,0,0,0,0,0,0,0,0,0, 0,0,0,0,0,0,0,0,0,0],
[0,0,0,0,0,0,1,2,3,4, 1.5,0,0,0,0,0,0,0,0,0, 0,0,0,0,0,0,0,0,0,0, 0,0,0,0,0,0,0,0,0,0, 0,0,0,0,0,0,0,0,0,0, 1,14.7,2,0,0,0,0,0,0,0],
[0,0,0,0,0,0,0.5,2.5,1.5,1, 0.2,0,0,0,0,0,0,0,0,0, 0,0,0,0,0,0,0,0,0,0, 0,0,0,0,0,0,0,0,0,0, 0,0,0,0,0,0,0,0,0,0, 0,0,0,0,0,0,0,0,2,7],
[0,0,0,0,0,0,2,11.7,5,2, 0,0,0,0,0,0,0,0,0,0, 0,0,0,0,0,0,0,0,0,0, 0,0,0,0,0,2,0.5,0,0,0, 0,0,0,0,0,0,0,0,0,0, 0,0,0,0,0,0,0,0,0,0],
[0,0,0,0,0,0,1,3,4,2, 0.5,0,0,0,0,0,0,0,0,0, 0,0,0,0,0,0,0,0,0,0, 0,0,0,0,0,0,0,0,0,0, 0,0,0,0,0,1.5,0,0,0,0, 0,0,0,0,0,0,0,0,0,0],
[0,0,0,0,0,0,1.5,5,7,3, 0.5,0,0,0,0,0,0,0,0,0, 0,0,0,0,0,0,0,0,0,0, 0,0,0,0,0,0,0,0,0,0, 0,0,0,0,0,0,0,0,0,0, 0,0,0,0,2,0,0,0,0,0],
[0,0,0,0,0,0,6.9,4,1.5,0.5, 0,0,0,0,0,0,0,0,0,0, 0,0,0,0,0,0,0,0,0,0, 0,0,0,0,0,0,0,0,0,0, 2,9.1,3,0.5,0,0,0,0,0,0, 0,0,0,0,0,0,0,0,0,0],
[0,0,0,0,0,0,1,5,9,3, 1,0,0,0,0,0,0,0,0,0, 0,0,0,0,0,0,0,0,0,0, 0,0,0,0,0,0,0,0,0,0, 0,0,0,0,0,0,0,0,0,0, 0,0.5,18.7,1,0,0,0,0,0,0],
[0,0,0,0,0,0,0.5,2,2.5,2, 0.5,0,0,0,0,0,0,0,0,0, 0,0,0,0,0,0,0,0,0,0, 0,0,0,0,0,0,0,0,0,0, 0,0,0,0,0,0,0,0,0,0, 0,0,0,0,0,0,2.5,1,0,0],
[0,0,0,0,0,0,1,4,6,4, 1,0,0,0,0,0,0,0,0,0, 0,0,0,0,0,0,0,0,0,0, 0,0,0,0,0,0,0,0,0,0, 0,0,0,0,0,0,0,0,0,0, 0,0,0,0,2,9.8,3,0.5,0,0],
[0,0,0,0,0,0,0.5,1,3,4, 5.7,0,0,0,0,0,0,0,0,0, 0,0,0,0,0,0,0,0,0,0, 0,0,0,0,0,0,0,0,0,0, 0,0,0,1,0,0,0,0,0,0, 0,0,0,0,0,0,0,0,0,0],
[0,0,0,0,0,0,1,3,2,1.5, 0.5,0,0,0,0,0,0,0,0,0, 0,0,0,0,0,0,0,0,0,0, 0,0,0,0,0,0.5,3.6,1,0,0, 0,0,0,0,0,0,0,0,0,0, 0,0,0,0,0,0,0,0,0,0],
[0,0,0,0,0,0,0.5,2,5,3, 1,0,0,0,0,0,0,0,0,0, 0,0,0,0,0,0,0,0,0,0, 0,0,0,0,0,0,0,0,0,0, 0,1,4.3,1,0,0,0,0,0,0, 0,0,0,0,0,0,0,0,0,0],
[0,0,0,0,0,0,1,2.5,3.5,2, 0.5,0,0,0,0,0,0,0,0,0, 0,0,0,0,0,0,0,0,0,0, 0,0,0,0,0,0,0,0,0,0, 0,0,0,0,0,0,0,0,0,0, 0,0,0,0,0,0,0,1,2,6.5],
[0,0,0,0,0,0,1.5,3,2,1, 0,0,0,0,0,0,0,0,0,0, 0,0,0,0,0,0,0,0,0,0, 0,0,0,0,0,0,0,0,0,1.5, 0,0,0,0,0,0,0,0,0,0, 0,0,0,0,0,0,0,0,0,0],
[0,0,0,0,0,0,0.5,2,5,10.3, 2,0,0,0,0,0,0,0,0,0, 0,0,0,0,0,0,0,0,0,0, 0,0,0,0,0,0,0,0,0,0, 0,0,0,0,0,0,0,0,0,0, 0,0,0,0,0,0,0,0,3,10.5],
[0,0,0,0,0,0,1,2,3,2, 1,0,0,0,0,0,0,0,0,0, 0,0,0,0,0,0,0,0,0,0, 0,0,0,0,0,0,0,0,0,0, 0,0,0,0,0,0,0,0,0,1, 0,0,0,0,0,0,0,0,0,0],
[0.3,0,0,0,0,0,0.5,1,2,4, 6.5,0,0,0,0,0,0,0,0,0, 0,0,0,0,0,0,0,0,0,0, 0,0,0,0,0,1,15.3,2,0,0, 0,0,0,0,0,0,0,0,0,0, 0,0,0,0,0,0,0,0,0,0],
[0,0,0,0,0,0,1,3,2,1, 0.3,0,0,0,0,0,0,0,0,0, 0,0,0,0,0,0,0,0,0,0, 0,0,0,0,0,0,0,0,0,0, 0,0,0,0,0,0,0,0,0,0, 0,0,0,0,0,0,4,15.6,3,0.5],
[0,0,0,0,0,0,1.5,2.5,4,3, 1,0,0,0,0,0,0,0,0,0, 0,0,0,0,0,0,0,0,0,0, 0,0,0,0,0,0,0,0,0,0, 0,0,0,0,0,1,3.2,1,0,0, 0,0,0,0,0,0,0,0,0,0],
[0,0,0,0,0,0,2,6,3,1, 0.3,0,0,0,0,0,0,0,0,0, 0,0,0,0,0,0,0,0,0,0, 0,0,0,0,0,0,1,0,0,0, 0,0,0,0,0,0,0,0,0,0, 0,0,0,0,0,0,0,0,0,0],
[0,0,0.3,0,0,0,0.5,2,6,8, 2,0,0,0,0,0,0,0,0,0, 0,0,0,0,0,0,0,0,0,0, 0,0,0,0,0,0,0,0,0,0, 0,0,0,0,0,0,0,0,0,0, 0,0,0,0,0,0,0,0,0,0],
[0,0,0,0,0,0,1,3,2.5,2, 1,0,0,0,0,0,0,0,0,0, 0,0,0,0,0,0,0,0,0,0, 0,0,0,0,0,0,0,0,0,0, 0,0,0,0,0,0,0,0,1,5.9, 1,0,0,0,0,0,0,0,0,0],
[0,0,0,0,0,0,0.5,1.5,2,1.5, 0.5,0,0,0,0,0,0,0,0,0, 0,0,0,0,0,0,0,0,0,0, 0,0,0,0,0,0,0,0,0,0, 0,0,0,0,3,7,2,0,0,0, 0,0,0,0,0,0,0,0,0,0],
[0,0,0,0,0,0,1,4,8,3, 1,0,0,0,0,0,0,0,0,0, 0,0,0,0,0,0,0,0,0,0, 0,0,0,0,0,0,0,0,0,0, 0,0,0,0,0,0.5,13.9,0.5,0,0, 0,0,0,0,0,0,0,0,0,0],
[0,0,0,0,0,0,2,3,2,1, 0.2,0,0,0,0,0,0,0,0,0, 0,0,0,0,0,0,0,0,0,0, 0,0,0,0,0,0,0,0,0,0, 0,0,0,0,0,0,0,0,0,0, 0,0,0,1.5,5.5,0.5,0,0,0,0],
[0,0,0,0,0,0,1,3,12.5,4, 1,0,0,0,0,0,0,0,0,0, 0,0,0,0,0,0,0,0,0,0, 0,0,0,0,0,0,0,0,0,0, 0,0,0,1.5,3.8,1,0,0,0,0, 0,0,0,0,0,0,0,0,0,0],
[0,0,0,0,0,0,0.5,2,4,6, 1.5,0,0,0,0,0,0,0,0,0, 0,0,0,0,0,0,0,0,0,0, 0,0,0,0,0,0,0,0,0,0, 0,0,0,0,0,0,0,0,0,0, 0,0,0,0,0,1,0,0,0,0],
[0,0,0,0,0,0,1,2,3,2, 0.5,0,0,0,0,0,0,0,0,0, 0,0,0,0,0,0,0,0,0,0, 0,0,0,0,0,0,0,0,1.5,3, 1,0,0,0,0,0,0,0,0,0, 0,0,0,0,0,0,0,0,0,0],
[0,0,0,0,0,0,0.5,1.5,2,1.5, 0.5,0,0,0,0,0,0,0,0,0, 0,0,0,0,0,0,0,0,0,0, 0,0,0,0,0,0,0,0,0,0, 0,0,0,0,0,0,0,0,5,20.8, 14.3,2,0.3,0,0,0,0,0,0,0],
[0,0,0,0,0,0,1,3,5,2, 0.5,0,0,0,0,0,0,0,0,0, 0,0,0,0,0,0,0,0,0,0, 0,0,0,0,0,0,0,0,0,0, 0,0,0,0,0,0,0,0,0,0, 0,0,0,0,0,0,0,0,0,2],
[0,0,0,0,0,0,1.5,2.5,3,4, 1,0,0,0,0,0,0,0,0,0, 0,0,0,0,0,0,0,0,0,0, 0,0,0,0,0,0,0,0,0,0, 0,0,0,0,0,0,0,0,0,0, 2,0,0,0,0,0,0,0,0,0],
[0,0,0,0,0,0,0.5,2,4,9, 3,0,0,0,0,0,0,0,0,0, 0,0,0,0,0,0,0,0,0,0, 0,0,0,0,0,0,0,0,0,0, 0,0,1,5.5,2,0,0,0,0,0, 0,0,0,0,0,0,0,0,0,0]
];

// ---------- build chart ----------
const MONO = '"DejaVu Sans Mono", monospace';
const PRECIP_ZERO = -45; // precipitation plotted on the same scale, 0 mm at -45
const plusSym = 'path://M1,0H2V1H3V2H2V3H1V2H0V1H1Z';

function pairs(hours, vals, shift) {
  const out = [];
  for (let i = 0; i < Math.min(hours.length, vals.length); i++) out.push([hours[i], vals[i] + (shift || 0)]);
  return out;
}
function memberLine(hours, vals, color, shift) {
  return { type: 'line', data: pairs(hours, vals, shift), symbol: plusSym, symbolSize: 3, showSymbol: true,
    lineStyle: { width: 1, color: color }, itemStyle: { color: color }, silent: true, z: 3, animation: false };
}
function mainLine(hours, vals, color, width, z, shift) {
  return { type: 'line', data: pairs(hours, vals, shift), symbol: 'none', lineStyle: { width: width, color: color },
    silent: true, z: z, animation: false };
}

const gridData = [];
dayHours.forEach(h => gridData.push({ xAxis: h, lineStyle: { color: '#c0c0c0', width: 1, type: 'solid' } }));
gridThin.forEach(v => gridData.push({ yAxis: v, lineStyle: { color: '#c0c0c0', width: 1, type: 'solid' } }));
gridThick.forEach(v => gridData.push({ yAxis: v, lineStyle: { color: '#c0c0c0', width: 2.5, type: 'solid' } }));
zeroLine.forEach(v => gridData.push({ yAxis: v, lineStyle: { color: '#999999', width: 3, type: 'solid' } }));

const series = [{
  type: 'line', data: [], z: 1, silent: true, animation: false,
  markLine: { silent: true, symbol: ['none', 'none'], label: { show: false }, animation: false, data: gridData }
}];
for (let m = 0; m < 50; m++) {
  series.push(memberLine(memberHours, t850Members[m], memberColors[m]));
  series.push(memberLine(memberHours, t500Members[m], memberColors[m]));
  series.push(memberLine(precipHours, precipMembers[m], memberColors[m], PRECIP_ZERO));
}
series.push(mainLine(hours6, control850, '#0000ff', 3, 5));
series.push(mainLine(hours6, control500, '#0000ff', 3, 5));
series.push(mainLine(precipHours, controlPrecip, '#0000ff', 3, 5, PRECIP_ZERO));
series.push(mainLine(hours6, oper850, '#000000', 3, 6));
series.push(mainLine(hours6, oper500, '#000000', 3, 6));
series.push(mainLine(precipHours, operPrecip, '#000000', 3, 6, PRECIP_ZERO));
series.push(mainLine(hours6, mean850, '#ff0000', 4.5, 7));
series.push(mainLine(hours6, mean500, '#ff0000', 4.5, 7));
series.push(mainLine(precipHours, meanPrecip, '#ff0000', 4.5, 7, PRECIP_ZERO));

// ---------- graphic (legend / captions) ----------
const graphics = [];
function txt(x, y, s, size, bold, align) {
  graphics.push({ type: 'text', x: x, y: y, silent: true, z: 10,
    style: { text: s, font: (bold ? 'bold ' : '') + size + 'px ' + MONO, fill: '#000',
      textAlign: align || 'left', textVerticalAlign: 'middle' } });
}
function box(x, y, w, h, fill) {
  graphics.push({ type: 'rect', silent: true, z: 10, shape: { x: x, y: y, width: w, height: h }, style: { fill: fill } });
}
txt(60, 101, 'Temp. 850hPa', 10);
txt(60, 270.5, 'Temp. 500hPa', 10);
txt(59, 451, 'Précipitations', 10);
txt(21, 607, '(°C)', 10);
txt(711, 607, '(mm)', 10);
box(35, 635, 31, 4, '#ff0000');
txt(74, 637.5, 'Moyenne des scénarios', 10);
box(225, 635.5, 31, 3, '#0000ff');
txt(264, 637.5, 'Run de contrôle', 10);
box(225, 645.5, 31, 3, '#000000');
txt(264, 647.5, 'Run CEP/ECMWF', 10);
txt(370, 652, '50 Perts.', 10);
for (let i = 0; i < 50; i++) {
  const col = i % 25, row = Math.floor(i / 25);
  const x = 430 + 11 * col;
  box(x, row === 0 ? 645 : 651, 10, 6, memberColors[i]);
  txt(x + 5, row === 0 ? 639.5 : 662.5, memberIds[i], 8, true, 'center');
}
graphics.push({ type: 'rect', silent: true, z: 10, shape: { x: 21, y: 668, width: 418, height: 30 },
  style: { fill: 'none', stroke: '#000', lineWidth: 2 } });
txt(30, 677.5, 'Diagramme ensembles ECMWF/CEP 0.25° sur 360h pour Lyon', 11.5, true);
txt(30, 691.5, 'Températures 850hPa et 500hPa (°C) , précipitations (mm)', 10);
txt(450, 676, 'Ensemble ECMWF/CEP du 16/08/2024 - 00Z', 10);
txt(450, 691.5, 'Copyright 2024 Meteociel.fr - ECMWF', 11.5, true);

const chart = echarts.init(document.getElementById('c'), null, { renderer: 'canvas' });
chart.setOption({
  animation: false,
  backgroundColor: '#ffffff',
  grid: { left: 50, right: 49.5, top: 0, bottom: 100, containLabel: false },
  xAxis: {
    type: 'value', min: 0, max: 360,
    axisLine: { show: true, lineStyle: { color: '#000', width: 1 } },
    axisTick: { show: false }, splitLine: { show: false },
    axisLabel: { customValues: dayHours, rotate: 90, margin: 3, verticalAlign: 'top', padding: [3, 0, 0, 0],
      fontFamily: MONO, fontSize: 10, color: '#000',
      formatter: v => dateLabels[dayHours.indexOf(v)] || '' }
  },
  yAxis: [{
    type: 'value', min: -53.0, max: 32.95, position: 'left',
    axisLine: { show: false }, axisTick: { show: false }, splitLine: { show: false },
    axisLabel: { customValues: leftTicks, align: 'left', margin: 30, fontFamily: MONO, fontSize: 10, color: '#000',
      formatter: v => String(v) }
  }, {
    type: 'value', min: -53.0, max: 32.95, position: 'right',
    axisLine: { show: false }, axisTick: { show: false }, splitLine: { show: false },
    axisLabel: { customValues: leftTicks, align: 'left', margin: 20, fontFamily: MONO, fontSize: 10, color: '#000',
      formatter: v => rightTickLabels[leftTicks.indexOf(v)] || '' }
  }],
  series: series,
  graphic: graphics
});
</script>
</body></html>
